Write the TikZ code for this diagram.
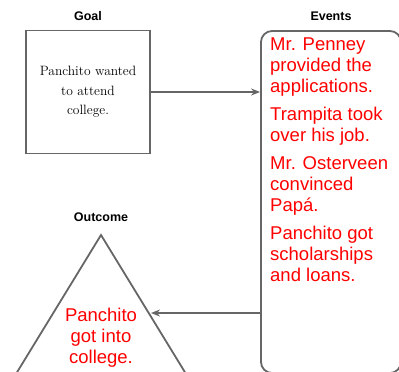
\documentclass[tikz,border=0pt]{standalone}
\usepackage{fontspec}
\setmainfont{Liberation Sans}
\newfontfamily\handfont{Latin Modern Roman}
\usetikzlibrary{arrows.meta}
\definecolor{linegray}{HTML}{666666}
\definecolor{txtred}{HTML}{FF0000}
\tikzset{
  shapeline/.style={draw=linegray, line width=1.8pt},
  headlabel/.style={font=\fontsize{12.5}{14}\selectfont\bfseries, text=black, inner sep=0pt},
  redtext/.style={font=\fontsize{18.5}{21}\selectfont, text=txtred, align=left, inner sep=0pt},
  conn/.style={draw=linegray, line width=1.8pt, -{Stealth[length=9pt,width=7pt]}},
}
\begin{document}
\begin{tikzpicture}[x=1pt,y=-1pt]
\useasboundingbox (0,0) rectangle (399,372);
% Goal
\node[headlabel] (goallab) at (88,16) {Goal};
\node[shapeline, minimum width=124pt, minimum height=123pt, inner sep=0pt,
      font=\handfont\fontsize{13.5}{19.5}\selectfont, align=center] (goal) at (88,92)
      {Panchito wanted\\to attend\\college.};
% Events
\node[headlabel] (evlab) at (331,16) {Events};
\node[shapeline, rounded corners=11pt, minimum width=140pt, minimum height=342pt, inner sep=0pt] (events) at (331,202) {};
\node[redtext, anchor=north west] (evtext) at (270,38)
  {Mr. Penney\\provided the\\applications.\\[7pt]Trampita took\\over his job.\\[7pt]Mr. Osterveen\\convinced\\Papá.\\[7pt]Panchito got\\scholarships\\and loans.};
% Outcome
\node[headlabel] (outlab) at (101,217) {Outcome};
\coordinate (apex) at (101,235);
\coordinate (bl) at (-3,405);
\coordinate (br) at (205,405);
\draw[shapeline, line join=miter] (bl) -- (apex) -- (br);
\node[redtext, align=center] (outtext) at (101,338) {Panchito\\got into\\college.};
\coordinate (trie) at (151,313);
% connectors
\draw[conn] (goal.east) -- (goal.east -| events.west);
\draw[conn] (events.west |- trie) -- (trie);
\end{tikzpicture}
\end{document}
